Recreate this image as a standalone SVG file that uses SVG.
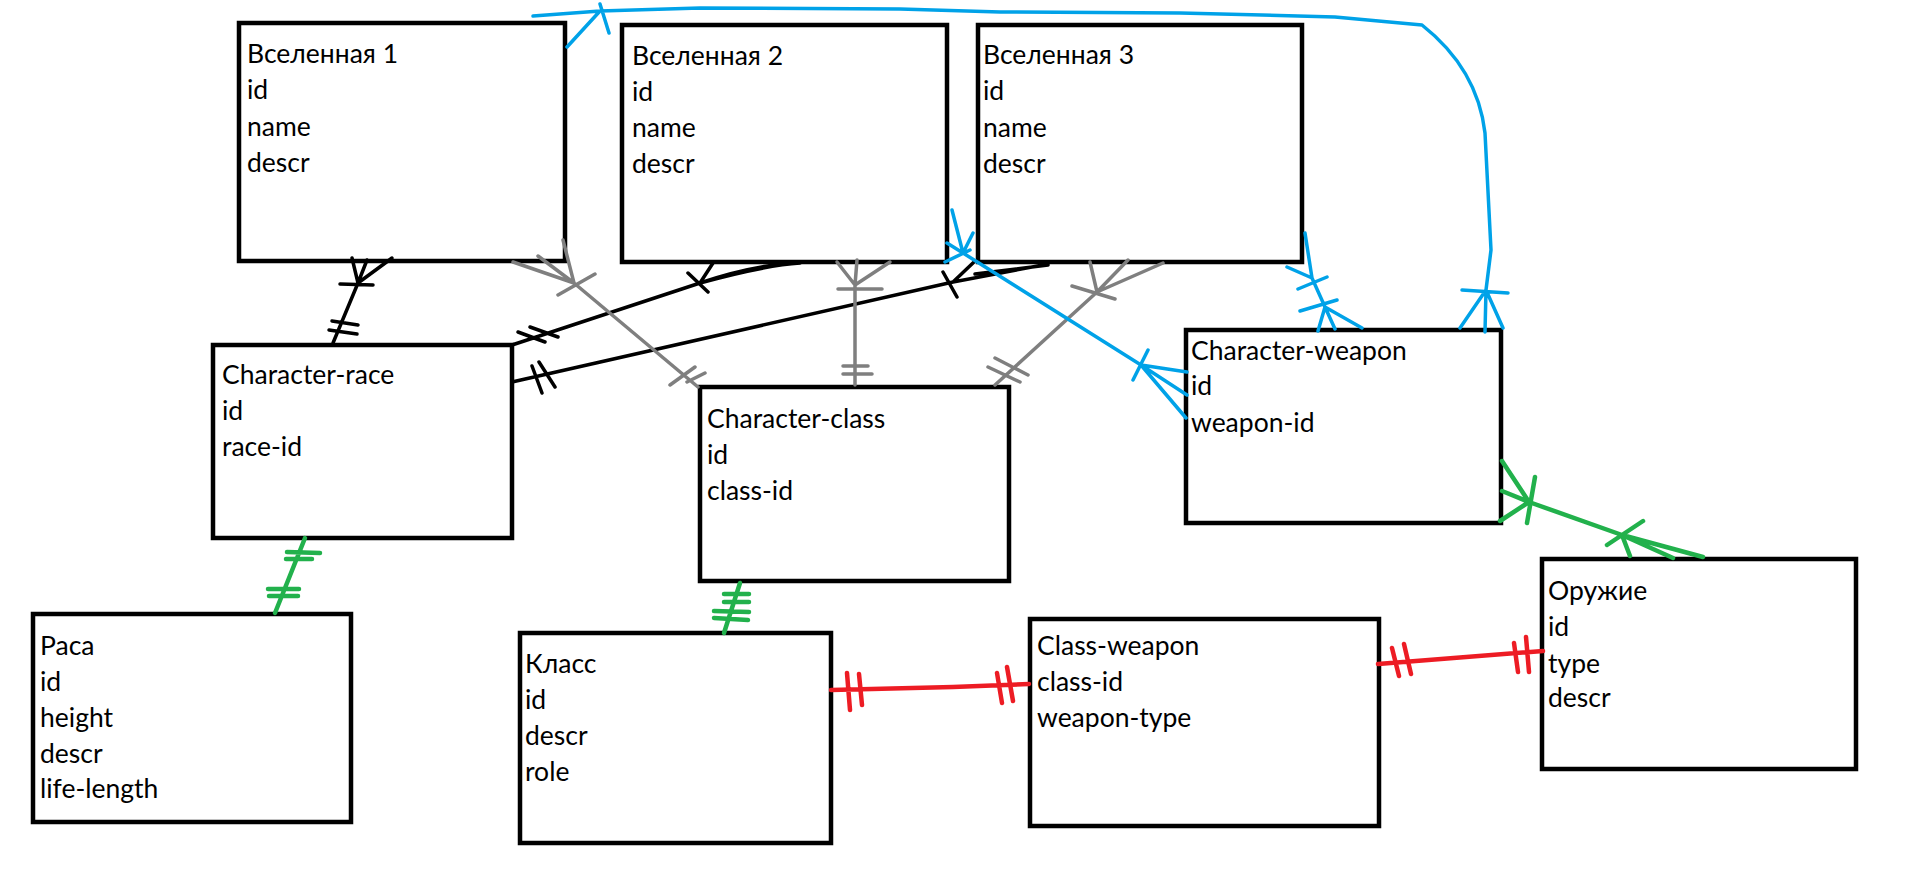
<svg xmlns="http://www.w3.org/2000/svg" width="1913" height="874" viewBox="0 0 1913 874">
<style>
.box{fill:#fff;stroke:#000;stroke-width:4.5}
.t{font-family:Lato,"Noto Sans","Liberation Sans",sans-serif;font-size:26.5px;fill:#000}
.k{fill:none;stroke:#000;stroke-width:3.5;stroke-linecap:round;stroke-linejoin:round}
.g{fill:none;stroke:#7f7f7f;stroke-width:3.5;stroke-linecap:round;stroke-linejoin:round}
.b{fill:none;stroke:#00a2e8;stroke-width:3.5;stroke-linecap:round;stroke-linejoin:round}
.gr{fill:none;stroke:#22b14c;stroke-width:4.5;stroke-linecap:round;stroke-linejoin:round}
.r{fill:none;stroke:#ed1c24;stroke-width:4.5;stroke-linecap:round;stroke-linejoin:round}
</style>
<rect width="1913" height="874" fill="#fff"/>
<g id="u1"><rect class="box" x="239" y="23" width="326" height="238"/>
<text class="t" x="247" y="63">Вселенная 1</text><text class="t" x="247" y="99">id</text><text class="t" x="247" y="136">name</text><text class="t" x="247" y="172">descr</text></g>
<g id="u2"><rect class="box" x="622" y="25" width="325" height="237"/>
<text class="t" x="632" y="65">Вселенная 2</text><text class="t" x="632" y="101">id</text><text class="t" x="632" y="137">name</text><text class="t" x="632" y="173">descr</text></g>
<g id="u3"><rect class="box" x="978" y="25" width="324" height="237"/>
<text class="t" x="983" y="64">Вселенная 3</text><text class="t" x="983" y="100">id</text><text class="t" x="983" y="137">name</text><text class="t" x="983" y="173">descr</text></g>
<g id="crace"><rect class="box" x="213" y="345" width="299" height="193"/>
<text class="t" x="222" y="384">Character-race</text><text class="t" x="222" y="420">id</text><text class="t" x="222" y="456">race-id</text></g>
<g id="cclass"><rect class="box" x="700" y="387" width="309" height="194"/>
<text class="t" x="707" y="428">Character-class</text><text class="t" x="707" y="464">id</text><text class="t" x="707" y="500">class-id</text></g>
<g id="cweapon"><rect class="box" x="1186" y="330" width="315" height="193"/>
<text class="t" x="1191" y="360">Character-weapon</text><text class="t" x="1191" y="395">id</text><text class="t" x="1191" y="432">weapon-id</text></g>
<g id="race"><rect class="box" x="33" y="614" width="318" height="208"/>
<text class="t" x="40" y="655">Раса</text><text class="t" x="40" y="691">id</text><text class="t" x="40" y="727">height</text><text class="t" x="40" y="763">descr</text><text class="t" x="40" y="798">life-length</text></g>
<g id="klass"><rect class="box" x="520" y="633" width="311" height="210"/>
<text class="t" x="525" y="673">Класс</text><text class="t" x="525" y="709">id</text><text class="t" x="525" y="745">descr</text><text class="t" x="525" y="781">role</text></g>
<g id="classweapon"><rect class="box" x="1030" y="619" width="349" height="207"/>
<text class="t" x="1037" y="655">Class-weapon</text><text class="t" x="1037" y="691">class-id</text><text class="t" x="1037" y="727">weapon-type</text></g>
<g id="weapon"><rect class="box" x="1542" y="559" width="314" height="210"/>
<text class="t" x="1548" y="600">Оружие</text><text class="t" x="1548" y="636">id</text><text class="t" x="1548" y="673">type</text><text class="t" x="1548" y="707">descr</text></g>
<g id="connectors">
<path class="k" d="M333,343 L358,283 L367,260 M358,283 L352,258 M358,283 L392,258 M340,284 L373,285 M332,321 L358,325 M329,330 L357,334"/>
<path class="k" d="M512,345 L700,283 L713,263 M700,283 C740,272 770,265 800,263 M700,283 C735,271 760,266 790,263 M688,273 L708,292 M518,332 L545,342 M530,327 L558,337"/>
<path class="k" d="M512,382 L953,282 L974,262 M953,282 L1048,264 M975,274 L1048,265 M943,272 L957,297 M532,366 L542,393 M539,362 L555,387"/>
<path class="g" d="M698,387 L574,283 L563,240 M574,283 L538,256 M574,283 L513,262 M558,295 L595,274 M670,385 L695,367 M687,382 L705,373"/>
<path class="g" d="M855,385 L855,285 L837,262 M855,285 L857,260 M855,285 L890,262 M838,289 L882,289 M843,366 L868,366 M843,374 L872,374"/>
<path class="g" d="M995,385 L1097,292 L1090,262 M1097,292 L1128,260 M1097,292 L1163,263 M1072,286 L1115,299 M988,367 L1020,382 M995,358 L1028,375"/>
<path class="b" d="M963,253 L1141,365 L1187,372 M1141,365 L1187,395 M1141,365 L1186,418 M1133,380 L1148,350 M963,253 L952,210 M963,253 L973,233 M963,253 L947,243 M945,262 L970,250"/>
<path class="b" d="M1305,233 L1312,278 L1325,307 L1318,331 M1287,267 L1312,278 M1298,289 L1327,277 M1300,311 L1337,300 M1325,307 L1335,329 M1325,307 L1362,328"/>
<path class="b" d="M567,47 L600,11 M533,16 L600,11 L700,8 L900,9 L1000,12 L1180,13 L1335,17 L1422,25 C1460,55 1480,90 1485,133 L1491,250 L1486,290 L1485,332 M600,4 L609,33 M1462,290 L1508,293 M1486,290 L1460,328 M1486,290 L1503,328"/>
<path class="gr" d="M305,538 L275,613 M287,552 L320,553 M286,559 L312,559 M268,589 L299,589 M269,596 L298,596"/>
<path class="gr" d="M740,583 L724,633 M724,594 L749,594 M724,602 L749,602 M714,611 L749,612 M714,618 L748,620"/>
<path class="gr" d="M1500,521 L1529,502 L1502,461 M1529,502 L1502,491 M1535,477 L1527,523 M1529,502 L1622,535 L1703,557 M1607,545 L1643,521 M1622,535 L1630,556 M1622,535 L1673,558"/>
<path class="r" d="M831,690 L953,687 L1029,684 M847,673 L850,710 M859,674 L862,705 M997,673 L1002,703 M1007,667 L1013,701"/>
<path class="r" d="M1378,664 L1543,651 M1392,648 L1399,676 M1404,644 L1411,674 M1514,643 L1518,672 M1526,637 L1529,672"/>
</g>
</svg>
